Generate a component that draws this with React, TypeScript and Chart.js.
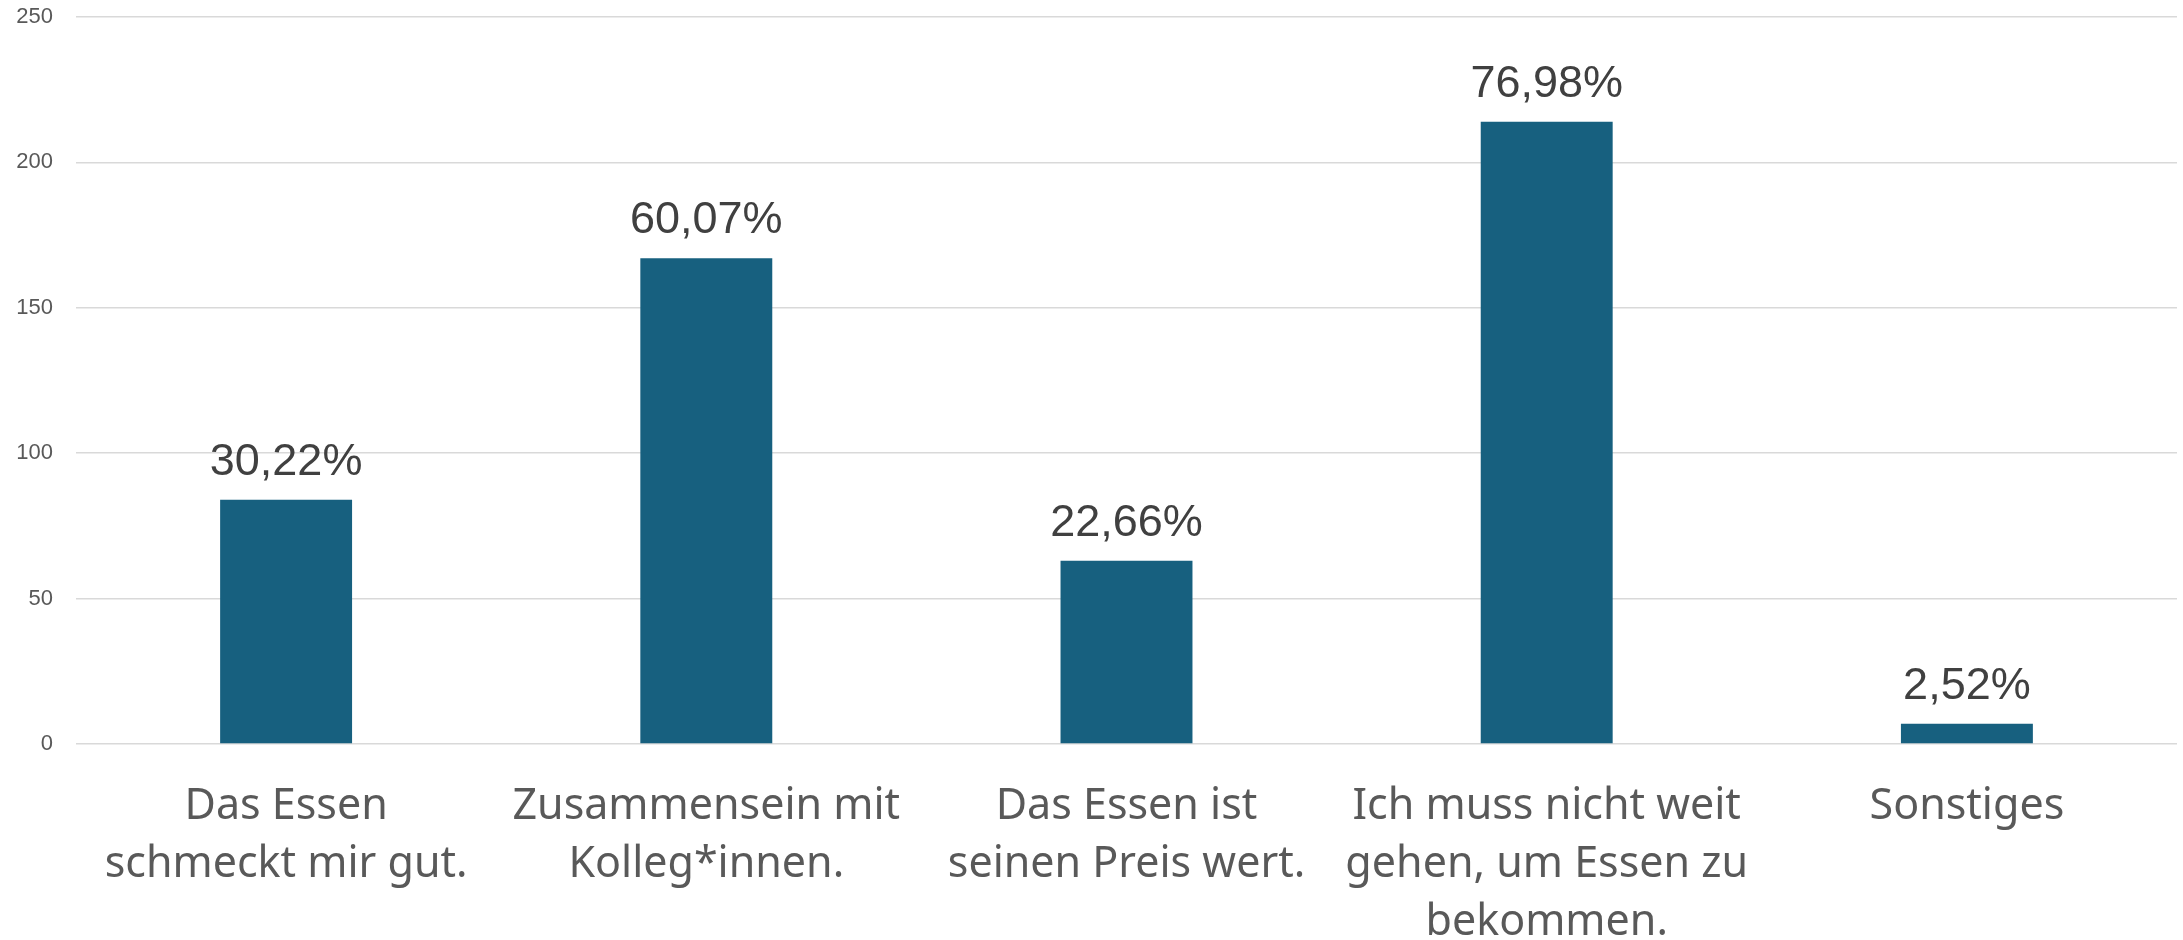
import React, { useEffect, useRef } from "react";
import { Chart, registerables } from "chart.js";

Chart.register(...registerables);

const categories: string[][] = [
  ["Das Essen", "schmeckt mir gut."],
  ["Zusammensein mit", "Kolleg*innen."],
  ["Das Essen ist", "seinen Preis wert."],
  ["Ich muss nicht weit", "gehen, um Essen zu", "bekommen."],
  ["Sonstiges"],
];
const counts: number[] = [84, 167, 63, 214, 7];
const percentLabels: string[] = ["30,22%", "60,07%", "22,66%", "76,98%", "2,52%"];
const yTicks: number[] = [0, 50, 100, 150, 200, 250];

const BAR_COLOR = "#17607F";

export default function App() {
  const ref = useRef<HTMLCanvasElement | null>(null);
  useEffect(() => {
    document.body.style.margin = "0";
    const canvas = ref.current;
    if (!canvas) return;
    const labelPlugin = {
      id: "pctLabels",
      afterDatasetsDraw(chart: any) {
        const ctx = chart.ctx;
        const meta = chart.getDatasetMeta(0);
        ctx.save();
        ctx.font = "45px 'Liberation Sans', Arial, sans-serif";
        ctx.fillStyle = "#404040";
        ctx.textAlign = "center";
        ctx.textBaseline = "alphabetic";
        meta.data.forEach((bar: any, i: number) => {
          ctx.fillText(percentLabels[i], bar.x, bar.y - 25);
        });
        ctx.restore();
      },
    };
    const chart = new Chart(canvas, {
      type: "bar",
      data: {
        labels: categories,
        datasets: [
          {
            data: counts,
            backgroundColor: BAR_COLOR,
            borderWidth: 0,
            barPercentage: 0.314,
            categoryPercentage: 1,
          },
        ],
      },
      options: {
        animation: false,
        responsive: false,
        maintainAspectRatio: false,
        layout: { padding: { top: 17, right: 6, left: 0, bottom: 0 } },
        plugins: {
          legend: { display: false },
          tooltip: { enabled: false },
        },
        scales: {
          x: {
            grid: { display: false, drawTicks: false },
            border: { display: false },
            ticks: {
              color: "#595959",
              font: { family: "'Noto Sans', sans-serif", size: 43, lineHeight: 1.35 },
              padding: 34,
              maxRotation: 0,
              autoSkip: false,
            },
            afterFit: (axis: any) => {
              axis.height = 940 - 744;
              axis.paddingTop = 0;
              axis.paddingBottom = 0;
            },
          },
          y: {
            min: 0,
            max: 250,
            afterBuildTicks: (axis: any) => {
              axis.ticks = yTicks.map((v) => ({ value: v }));
            },
            grid: { color: "#D9D9D9", lineWidth: 1.5, drawTicks: false },
            border: { display: false },
            ticks: {
              color: "#595959",
              font: { family: "'Liberation Sans', Arial, sans-serif", size: 22 },
              padding: 23,
            },
            afterFit: (axis: any) => {
              axis.width = 76;
              axis.paddingTop = 0;
              axis.paddingBottom = 0;
            },
          },
        },
      },
      plugins: [labelPlugin],
    });
    return () => chart.destroy();
  }, []);
  return (
    <div style={{ width: 2183, height: 940 }}>
      <canvas ref={ref} width={2183} height={940} style={{ display: "block" }} />
    </div>
  );
}
